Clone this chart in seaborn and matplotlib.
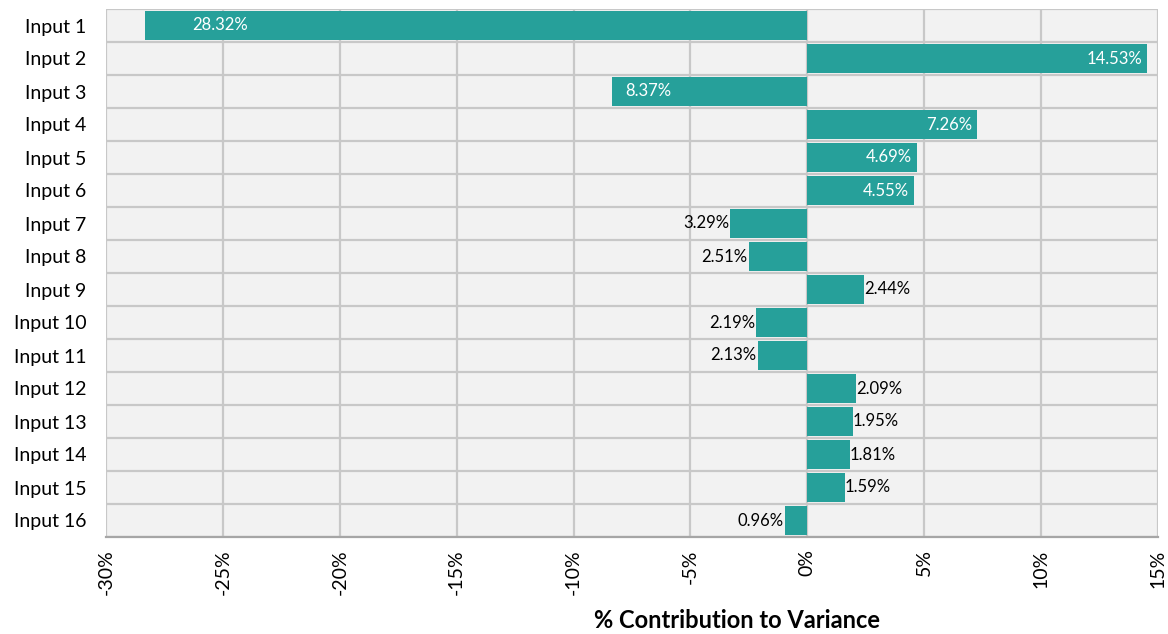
import matplotlib
matplotlib.use("Agg")
import matplotlib.pyplot as plt
import seaborn as sns
import pandas as pd
import numpy as np
from matplotlib.ticker import FuncFormatter

categories = [f"Input {i}" for i in range(1, 17)]
values = [-28.32, 14.53, -8.37, 7.26, 4.69, 4.55, -3.29, -2.51, 2.44,
          -2.19, -2.13, 2.09, 1.95, 1.81, 1.59, -0.96]
xticks = [-30, -25, -20, -15, -10, -5, 0, 5, 10, 15]

sns.set_theme(style="white")
plt.rcParams['font.family'] = ['Lato', 'DejaVu Sans']

df = pd.DataFrame({"cat": categories, "val": values})

fig = plt.figure(figsize=(11.68, 6.34), dpi=100)
ax = fig.add_axes([106/1168, 1-537/634, (1158-106)/1168, (537-9)/634])
ax.set_facecolor("#F2F2F2")

teal = "#26A09A"
sns.barplot(data=df, x="val", y="cat", orient="h", color=teal, width=0.86,
            saturation=1, linewidth=0, edgecolor="none", ax=ax, zorder=3)

ax.set_xlim(-30, 15)
ax.set_ylim(len(categories) - 0.5, -0.5)
ax.set_xticks(xticks)
ax.xaxis.set_major_formatter(FuncFormatter(lambda v, p: f"{v:.0f}%"))

grid_c = "#C8C8C8"
for x in xticks:
    ax.axvline(x, color=grid_c, lw=1.6, zorder=1)
for i in range(len(categories) + 1):
    ax.axhline(i - 0.5, color=grid_c, lw=1.6, zorder=1)

for s in ["top", "right", "left"]:
    ax.spines[s].set_visible(False)
ax.spines["bottom"].set_color("#A6A6A6")
ax.spines["bottom"].set_linewidth(1.6)
ax.spines["bottom"].set_zorder(4)

ax.tick_params(axis="x", direction="out", length=6, width=1.6, color="#A6A6A6",
               labelsize=14, labelrotation=90, pad=3, labelcolor="black")
ax.tick_params(axis="y", length=0, labelsize=14, pad=14, labelcolor="black")
ax.set_ylabel("")
ax.set_xlabel("")
fig.text(737/1168, 1-621/634, "% Contribution to Variance", fontsize=17,
         fontweight="bold", ha="center", va="center", color="black")

fs = 12
for i, v in enumerate(values):
    txt = f"{abs(v):.2f}%"
    if abs(v) > 4:
        if i == 0:
            ax.text(-25.1, i, txt, ha="center", va="center", color="white",
                    fontsize=fs, zorder=5)
        elif v > 0:
            ax.text(v - 0.2, i, txt, ha="right", va="center", color="white",
                    fontsize=fs, zorder=5)
        else:
            ax.text(v + 0.6, i, txt, ha="left", va="center", color="white",
                    fontsize=fs, zorder=5)
    else:
        if v > 0:
            ax.text(v, i, txt, ha="left", va="center", color="black",
                    fontsize=fs, zorder=5)
        else:
            ax.text(v - 0.05, i, txt, ha="right", va="center", color="black",
                    fontsize=fs, zorder=5)

fig.savefig("out.png", dpi=100, facecolor="white")
